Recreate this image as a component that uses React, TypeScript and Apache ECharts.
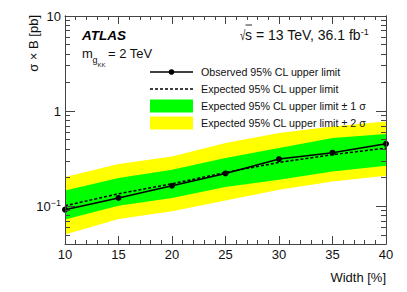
import React, { useEffect, useRef } from 'react';
import * as echarts from 'echarts';

const widths = [10, 15, 20, 25, 30, 35, 40];
const observed = [0.0919, 0.122, 0.164, 0.221, 0.313, 0.365, 0.453];
const expected = [0.101, 0.135, 0.172, 0.226, 0.288, 0.348, 0.408];
const plus1 = [0.146, 0.198, 0.242, 0.321, 0.408, 0.52, 0.573];
const minus1 = [0.0722, 0.101, 0.122, 0.159, 0.19, 0.232, 0.266];
const plus2 = [0.203, 0.277, 0.333, 0.461, 0.587, 0.689, 0.776];
const minus2 = [0.0502, 0.0735, 0.0882, 0.115, 0.149, 0.182, 0.209];

const yMajor = [0.1, 1, 10];
const yMinor = [0.04, 0.05, 0.06, 0.07, 0.08, 0.09, 0.2, 0.3, 0.4, 0.5, 0.6, 0.7, 0.8, 0.9, 2, 3, 4, 5, 6, 7, 8, 9];
const legendLabels = [
  'Observed 95% CL upper limit',
  'Expected 95% CL upper limit',
  'Expected 95% CL upper limit \u00b1 1 \u03c3',
  'Expected 95% CL upper limit \u00b1 2 \u03c3',
];

const FONT = '"Liberation Sans", Arial, Helvetica, sans-serif';
const INK = '#111';
const AXIS = '#444';

function pairs(ys: number[]) {
  return widths.map((x, i) => [x, ys[i]]);
}
function band(lo: number[], hi: number[]) {
  return widths.map((x, i) => [x, lo[i], hi[i]]);
}

function bandSeries(name: string, lo: number[], hi: number[], color: string, z: number) {
  const data = band(lo, hi);
  return {
    name,
    type: 'custom',
    silent: true,
    z,
    encode: { x: 0, y: [1, 2] },
    data,
    renderItem: (params: any, api: any) => {
      if (params.dataIndex !== 0) return null;
      const top = data.map((d) => api.coord([d[0], d[2]]));
      const bottom = data.map((d) => api.coord([d[0], d[1]])).reverse();
      return {
        type: 'polygon',
        shape: { points: top.concat(bottom) },
        style: { fill: color, stroke: 'none' },
      };
    },
  };
}

export default function App() {
  const ref = useRef<HTMLDivElement>(null);
  useEffect(() => {
    if (!ref.current) return;
    const chart = echarts.init(ref.current, null, { renderer: 'svg' });

    const xAxisBase = (pos: 'top' | 'bottom', labels: boolean) => ({
      type: 'value',
      position: pos,
      min: 10,
      max: 40,
      interval: 5,
      z: 10,
      axisLine: { show: true, lineStyle: { color: AXIS, width: 1 } },
      axisTick: { show: true, inside: true, length: 8, lineStyle: { color: AXIS } },
      minorTick: { show: true, splitNumber: 5, length: 4, lineStyle: { color: AXIS } },
      splitLine: { show: false },
      minorSplitLine: { show: false },
      axisLabel: {
        show: labels,
        margin: 4,
        color: INK,
        fontSize: 13,
        fontFamily: FONT,
      },
    });

    const yAxisBase = (pos: 'left' | 'right', major: boolean, labels: boolean) => ({
      type: 'log',
      logBase: 10,
      position: pos,
      min: 0.04,
      max: 10,
      z: 10,
      axisLine: { show: true, lineStyle: { color: AXIS, width: 1 } },
      axisTick: {
        show: true,
        inside: true,
        length: major ? 10 : 5,
        customValues: major ? yMajor : yMinor,
        lineStyle: { color: AXIS },
      },
      splitLine: { show: false },
      minorTick: { show: false },
      axisLabel: {
        show: labels,
        customValues: yMajor,
        margin: 4,
        color: INK,
        fontSize: 13,
        fontFamily: FONT,
        formatter: (v: number) => {
          if (Math.abs(v - 0.1) < 1e-9) return '{b|10}{s|\u22121}';
          return '{b|' + (Math.abs(v - 1) < 1e-9 ? '1' : '10') + '}';
        },
        rich: {
          b: { fontSize: 13, fontFamily: FONT, color: INK, lineHeight: 16 },
          s: { fontSize: 9, fontFamily: FONT, color: INK, lineHeight: 7, verticalAlign: 'top' },
        },
      },
    });

    const legendY = [72, 89, 106, 123];
    const legendGraphics: any[] = [
      { type: 'line', z: 100, shape: { x1: 150, y1: legendY[0], x2: 193, y2: legendY[0] }, style: { stroke: '#000', lineWidth: 1.5 } },
      { type: 'circle', z: 100, shape: { cx: 171.5, cy: legendY[0], r: 2.8 }, style: { fill: '#000' } },
      { type: 'line', z: 100, shape: { x1: 150, y1: legendY[1], x2: 193, y2: legendY[1] }, style: { stroke: '#000', lineWidth: 1.5, lineDash: [3, 2] } },
      { type: 'rect', z: 100, shape: { x: 150, y: legendY[2] - 6.5, width: 43, height: 13 }, style: { fill: '#00ff00' } },
      { type: 'rect', z: 100, shape: { x: 150, y: legendY[3] - 6.5, width: 43, height: 13 }, style: { fill: '#ffff00' } },
      ...legendLabels.map((t, i) => ({
        type: 'text',
        z: 100,
        x: 201,
        y: legendY[i],
        style: { text: t, fill: INK, fontSize: 10.7, fontFamily: FONT, align: 'left', verticalAlign: 'middle' },
      })),
    ];

    const option: any = {
      animation: false,
      grid: { left: 65, right: 21, top: 16, bottom: 48, containLabel: false },
      xAxis: [xAxisBase('bottom', true), xAxisBase('top', false)],
      yAxis: [
        yAxisBase('left', true, true),
        yAxisBase('left', false, false),
        yAxisBase('right', true, false),
        yAxisBase('right', false, false),
      ],
      series: [
        bandSeries(legendLabels[3], minus2, plus2, '#ffff00', 1),
        bandSeries(legendLabels[2], minus1, plus1, '#00ff00', 2),
        {
          name: legendLabels[1], type: 'line', data: pairs(expected), symbol: 'none',
          lineStyle: { color: '#000', width: 1.5, type: [3, 2] }, z: 3,
        },
        {
          name: legendLabels[0], type: 'line', data: pairs(observed), symbol: 'circle', symbolSize: 6,
          itemStyle: { color: '#000' }, lineStyle: { color: '#000', width: 1.5 }, z: 4,
        },
      ],
      graphic: [
        {
          type: 'text', x: 82, y: 35, z: 100,
          style: { text: 'ATLAS', fill: '#000', fontSize: 13.5, fontWeight: 'bold', fontStyle: 'italic', fontFamily: FONT, verticalAlign: 'middle' },
        },
        {
          type: 'text', x: 82, y: 53, z: 100,
          style: { text: 'm', fill: INK, fontSize: 13, fontFamily: FONT, verticalAlign: 'middle' },
        },
        {
          type: 'text', x: 92.5, y: 60, z: 100,
          style: { text: 'g', fill: INK, fontSize: 9, fontFamily: FONT, verticalAlign: 'middle' },
        },
        {
          type: 'text', x: 97.5, y: 64.5, z: 100,
          style: { text: 'KK', fill: INK, fontSize: 6, fontFamily: FONT, verticalAlign: 'middle' },
        },
        {
          type: 'text', x: 108, y: 53, z: 100,
          style: { text: '= 2 TeV', fill: INK, fontSize: 13, fontFamily: FONT, verticalAlign: 'middle' },
        },
        {
          type: 'text', x: 240, y: 35, z: 100, scaleX: 0.7,
          style: { text: '\u221a', fill: INK, fontSize: 14, fontFamily: FONT, verticalAlign: 'middle' },
        },
        {
          type: 'text', x: 245, y: 35, z: 100,
          style: {
            text: '{b|s = 13 TeV, 36.1 fb}{s|-1}',
            fill: INK, fontSize: 14, fontFamily: FONT, verticalAlign: 'middle',
            rich: {
              b: { fontSize: 14, fontFamily: FONT, fill: INK, lineHeight: 16 },
              s: { fontSize: 9, fontFamily: FONT, fill: INK, lineHeight: 8, verticalAlign: 'top' },
            },
          },
        },
        {
          type: 'line', z: 100, shape: { x1: 245.5, y1: 25, x2: 252, y2: 25 }, style: { stroke: INK, lineWidth: 0.9 },
        },
        {
          type: 'text', x: 33, y: 15, rotation: Math.PI / 2, z: 100,
          style: { text: '\u03c3 \u00d7 B [pb]', fill: INK, fontSize: 13, fontFamily: FONT, align: 'right', verticalAlign: 'middle' },
        },
        {
          type: 'text', x: 386, y: 277, z: 100,
          style: { text: 'Width [%]', fill: INK, fontSize: 13, fontFamily: FONT, align: 'right', verticalAlign: 'middle' },
        },
        ...legendGraphics,
      ],
    };
    chart.setOption(option);
    return () => chart.dispose();
  }, []);
  return <div ref={ref} style={{ width: 407, height: 292, position: 'absolute', left: 0, top: 0 }} />;
}
